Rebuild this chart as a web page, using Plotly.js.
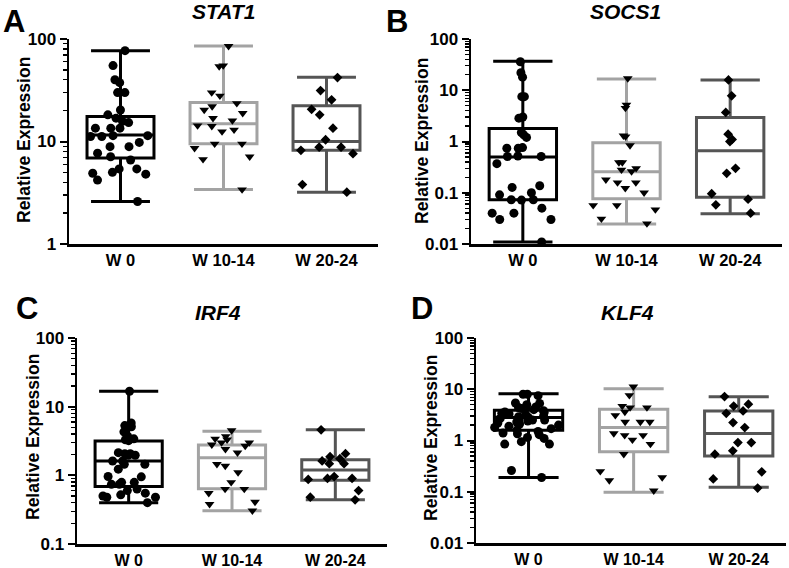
<!DOCTYPE html>
<html>
<head>
<meta charset="utf-8">
<script src="https://cdn.plot.ly/plotly-3.0.1.min.js"></script>
<style>html,body{margin:0;padding:0;background:#fff;}#chart{width:789px;height:568px;}</style>
</head>
<body>
<div id="chart"></div>
<script>
// ---------- data ----------
const groups = ['W 0', 'W 10-14', 'W 20-24'];
const geneNames = ['STAT1', 'SOCS1', 'IRF4', 'KLF4'];
const panelLetters = ['A', 'B', 'C', 'D'];
const yTitle = 'Relative Expression';

// STAT1
const stat1_w0 = [77, 55, 37.5, 40, 30, 30, 20.3, 18.2, 16.9, 15.7, 15.3, 13.5, 13.5, 13.5, 11.4, 11.4, 11.2, 11.2, 9.8, 8.9, 8.9, 7.7, 7.1, 6.6, 5.4, 5.0, 4.8, 4.9, 5.4, 4.2, 2.6];
const stat1_w10 = [85, 54, 55, 30, 27.9, 22, 23.6, 18.9, 20.3, 16, 16.9, 13, 14.1, 14.3, 12.5, 9.5, 9.5, 8.6, 7.1, 6.7, 3.4];
const stat1_w20 = [42, 31.4, 25.5, 20.6, 18.2, 13.5, 10.4, 8.8, 8.2, 7.6, 8.8, 3.8, 3.2];
const stat1_q1 = [6.9, 9.5, 8.2];
const stat1_med = [11.6, 14.9, 10];
const stat1_q3 = [17.5, 24, 22.3];
const stat1_min = [2.6, 3.4, 3.2];
const stat1_max = [77, 85.5, 42.3];

// SOCS1
const socs1_w0 = [36, 22, 18, 7.5, 7.5, 3.0, 2.85, 1.2, 1.35, 1.5, 0.74, 0.74, 0.76, 0.52, 0.51, 0.51, 0.37, 0.137, 0.127, 0.10, 0.091, 0.073, 0.072, 0.073, 0.040, 0.040, 0.050, 0.030, 0.030, 0.011];
const socs1_w10 = [17, 4.5, 5.2, 1.25, 1.3, 0.84, 0.30, 0.39, 0.39, 0.26, 0.28, 0.158, 0.18, 0.158, 0.123, 0.10, 0.057, 0.057, 0.047, 0.031, 0.025];
const socs1_w20 = [15.9, 7.8, 3.7, 1.1, 1.0, 1.39, 0.30, 0.24, 0.096, 0.075, 0.058, 0.040];
const socs1_q1 = [0.073, 0.076, 0.082];
const socs1_med = [0.5, 0.257, 0.66];
const socs1_q3 = [1.79, 0.95, 2.94];
const socs1_min = [0.011, 0.0245, 0.039];
const socs1_max = [36.7, 16.6, 15.9];

// IRF4
const irf4_w0 = [16.8, 5.3, 5.1, 5.8, 4.2, 4.3, 3.4, 3.2, 3.3, 3.7, 2.14, 2.07, 1.96, 1.96, 2.07, 1.62, 1.45, 1.45, 1.62, 1.23, 0.96, 0.95, 0.79, 0.74, 0.79, 0.74, 0.60, 0.52, 0.63, 0.55, 0.48, 0.48, 0.5, 0.40];
const irf4_w10 = [4.5, 3.3, 3.0, 3.7, 3.4, 3.0, 2.68, 2.8, 2.14, 2.4, 1.45, 1.1, 1.37, 0.79, 0.63, 0.63, 0.55, 0.41, 0.38, 0.305];
const irf4_w20 = [4.6, 2.07, 1.87, 1.75, 1.62, 1.48, 1.48, 0.96, 0.9, 0.87, 0.9, 0.60, 0.48, 0.44];
const irf4_q1 = [0.69, 0.64, 0.85];
const irf4_med = [1.62, 1.81, 1.2];
const irf4_q3 = [3.16, 2.77, 1.68];
const irf4_min = [0.40, 0.305, 0.44];
const irf4_max = [16.8, 4.4, 4.6];

// KLF4
const klf4_w0 = [8.0, 8.0, 7.5, 5.3, 5.4, 5.0, 4.4, 4.5, 4.2, 4.0, 3.8, 3.6, 3.5, 3.4, 3.3, 3.2, 3.0, 2.9, 2.8, 2.7, 2.6, 2.5, 2.5, 2.4, 2.3, 2.2, 2.1, 2.0, 1.9, 1.8, 1.7, 1.6, 1.5, 1.4, 1.35, 1.3, 1.15, 1.1, 0.95, 0.85, 0.85, 0.26, 0.19];
const klf4_w10 = [11.2, 7.6, 3.1, 4.4, 4.4, 4.7, 3.6, 2.3, 2.3, 2.3, 1.37, 1.26, 1.26, 1.03, 0.85, 0.54, 0.25, 0.166, 0.19, 0.105];
const klf4_w20 = [7.2, 5.1, 4.7, 3.77, 3.4, 2.24, 1.79, 0.91, 0.91, 0.63, 0.54, 0.245, 0.178, 0.118];
const klf4_q1 = [1.58, 0.6, 0.5];
const klf4_med = [2.8, 1.79, 1.37];
const klf4_q3 = [3.9, 4.05, 3.77];
const klf4_min = [0.19, 0.098, 0.122];
const klf4_max = [8.2, 10.2, 7.1];

const yTickVals = [[1, 10, 100], [0.01, 0.1, 1, 10, 100], [0.1, 1, 10, 100], [0.01, 0.1, 1, 10, 100]];
const yTickText = [['1', '10', '100'], ['0.01', '0.1', '1', '10', '100'], ['0.1', '1', '10', '100'], ['0.01', '0.1', '1', '10', '100']];

// ---------- build ----------
const panels = [
  {pts: [stat1_w0, stat1_w10, stat1_w20], q1: stat1_q1, med: stat1_med, q3: stat1_q3, lo: stat1_min, hi: stat1_max},
  {pts: [socs1_w0, socs1_w10, socs1_w20], q1: socs1_q1, med: socs1_med, q3: socs1_q3, lo: socs1_min, hi: socs1_max},
  {pts: [irf4_w0, irf4_w10, irf4_w20], q1: irf4_q1, med: irf4_med, q3: irf4_q3, lo: irf4_min, hi: irf4_max},
  {pts: [klf4_w0, klf4_w10, klf4_w20], q1: klf4_q1, med: klf4_med, q3: klf4_q3, lo: klf4_min, hi: klf4_max}
];
const boxColors = ['#000000', '#a3a3a3', '#555555'];
const symbols = ['circle', 'triangle-down', 'diamond'];
const symSizes = [9, 8.5, 7.5];
const FONT = 'Liberation Sans, Arial, sans-serif';

const traces = [];
panels.forEach((p, pi) => {
  const xa = pi === 0 ? 'x' : 'x' + (pi + 1);
  const ya = pi === 0 ? 'y' : 'y' + (pi + 1);
  for (let g = 0; g < 3; g++) {
    traces.push({
      type: 'box', xaxis: xa, yaxis: ya,
      x: [groups[g]],
      q1: [p.q1[g]], median: [p.med[g]], q3: [p.q3[g]],
      lowerfence: [p.lo[g]], upperfence: [p.hi[g]],
      boxpoints: false, width: 0.65, whiskerwidth: 0.88,
      line: {color: boxColors[g], width: 3},
      fillcolor: 'rgba(255,255,255,0)',
      showlegend: false, hoverinfo: 'skip'
    });
  }
  for (let g = 0; g < 3; g++) {
    traces.push({
      type: 'box', xaxis: xa, yaxis: ya,
      x: p.pts[g].map(() => groups[g]), y: p.pts[g],
      boxpoints: 'all', jitter: 1, pointpos: 0, width: g === 0 ? 0.7 : 0.76,
      line: {color: 'rgba(0,0,0,0)', width: 0},
      fillcolor: 'rgba(0,0,0,0)',
      marker: {color: '#000', symbol: symbols[g], size: symSizes[g]},
      showlegend: false, hoverinfo: 'skip'
    });
  }
});

const W = 789, H = 568;
// pixel geometry of each plot area: [left, right, top, bottom]
const geo = [[69, 378, 39, 244], [471, 782, 39, 244], [77, 387, 338, 544], [476, 786, 338, 543]];
const yRanges = [[0, 2], [-2, 2], [-1, 2], [-2, 2]];
const xRanges = [[-0.5, 2.5], [-0.5, 2.5], [-0.5, 2.5], [-0.5, 2.45]];

const layout = {
  width: W, height: H,
  margin: {l: 0, r: 0, t: 0, b: 0},
  paper_bgcolor: '#fff', plot_bgcolor: 'rgba(0,0,0,0)',
  showlegend: false, boxmode: 'overlay',
  font: {family: FONT, color: '#000'},
  annotations: []
};
geo.forEach((g, i) => {
  const s = i === 0 ? '' : String(i + 1);
  layout['xaxis' + s] = {
    domain: [g[0] / W, g[1] / W], anchor: 'y' + s,
    type: 'category', categoryarray: groups, categoryorder: 'array',
    range: xRanges[i], showline: true, linecolor: '#000', linewidth: 2.5,
    ticks: '', showgrid: false, zeroline: false, fixedrange: true,
    tickfont: {family: FONT, size: i < 2 ? 16.5 : 16, weight: 'bold', color: '#000'}
  };
  layout['yaxis' + s] = {
    domain: [1 - g[3] / H, 1 - g[2] / H], anchor: 'x' + s,
    type: 'log', range: yRanges[i],
    tickmode: 'array', tickvals: yTickVals[i], ticktext: yTickText[i],
    showline: true, linecolor: '#000', linewidth: 2.5,
    ticks: 'outside', ticklen: 7, tickwidth: 2, tickcolor: '#000',
    minor: {ticks: 'outside', ticklen: 4, tickwidth: 1.3, tickcolor: '#000', dtick: 'D1', showgrid: false},
    showgrid: false, zeroline: false, fixedrange: true,
    tickfont: {family: FONT, size: 17, weight: 'bold', color: '#000'}
  };
});
const titlePos = [[223, 12], [625, 12], [218, 312], [627, 312]];
const letterPos = [[14, 21], [397, 21], [27, 308], [422, 308]];
const yTitlePos = [[24, 140], [422, 141], [33, 437], [431, 438]];
titlePos.forEach((t, i) => {
  layout.annotations.push({
    xref: 'paper', yref: 'paper', x: t[0] / W, y: 1 - t[1] / H,
    xanchor: 'center', yanchor: 'middle', showarrow: false,
    text: geneNames[i],
    font: {family: FONT, size: 21, weight: 'bold', style: 'italic', color: '#000'}
  });
  layout.annotations.push({
    xref: 'paper', yref: 'paper', x: letterPos[i][0] / W, y: 1 - letterPos[i][1] / H,
    xanchor: 'center', yanchor: 'middle', showarrow: false,
    text: panelLetters[i],
    font: {family: FONT, size: 31, weight: 'bold', color: '#000'}
  });
  layout.annotations.push({
    xref: 'paper', yref: 'paper', x: yTitlePos[i][0] / W, y: 1 - yTitlePos[i][1] / H,
    xanchor: 'center', yanchor: 'middle', showarrow: false, textangle: -90,
    text: yTitle,
    font: {family: FONT, size: 17.5, weight: 'bold', color: '#000'}
  });
});

Plotly.newPlot('chart', traces, layout, {staticPlot: true, displayModeBar: false});
</script>
</body>
</html>
